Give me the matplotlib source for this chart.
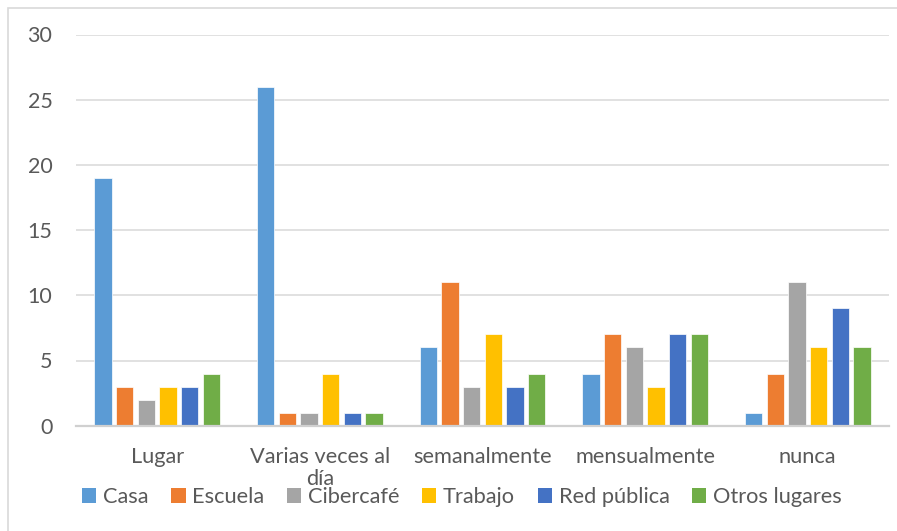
import matplotlib
matplotlib.use("Agg")
import matplotlib.pyplot as plt
from matplotlib.patches import Rectangle, Patch
import numpy as np

plt.rcParams['font.family'] = ['Lato', 'DejaVu Sans']

categories = ["Lugar", "Varias veces al\ndía", "semanalmente", "mensualmente", "nunca"]
series_names = ["Casa", "Escuela", "Cibercafé", "Trabajo", "Red pública", "Otros lugares"]
casa = [19, 26, 6, 4, 1]
escuela = [3, 1, 11, 7, 4]
cibercafe = [2, 1, 3, 6, 11]
trabajo = [3, 4, 7, 3, 6]
red_publica = [3, 1, 3, 7, 9]
otros_lugares = [4, 1, 4, 7, 6]
yticks = [0, 5, 10, 15, 20, 25, 30]

series_values = [casa, escuela, cibercafe, trabajo, red_publica, otros_lugares]
colors = ["#5B9BD5", "#ED7D31", "#A5A5A5", "#FFC000", "#4472C4", "#70AD47"]
text_color = "#595959"

W, H = 897, 531
fig = plt.figure(figsize=(W / 100, H / 100), dpi=100)

# chart area border
fig.patches.append(Rectangle((8 / W, -0.1), 1.2, 1 - 8 / H + 0.1,
                             transform=fig.transFigure, fill=False,
                             edgecolor="#D9D9D9", linewidth=1.2, zorder=0))

left, right = 76 / W, 889 / W
top_px, bot_px = 34.5, 425.7
ax = fig.add_axes([left, 1 - bot_px / H, right - left, (bot_px - top_px) / H])

x = np.arange(len(categories))
step = 0.8 / len(series_names)
for i, (name, vals, c) in enumerate(zip(series_names, series_values, colors)):
    pos = x - 0.4 + step * (i + 0.5)
    ax.bar(pos, vals, width=step * 0.8, color=c, edgecolor="white",
           linewidth=0.5, label=name, zorder=3)

ax.set_xlim(-0.5, len(categories) - 0.5)
ax.set_ylim(0, 30)
ax.set_yticks(yticks)
ax.yaxis.grid(True, color="#D9D9D9", linewidth=1.1, zorder=0)
ax.set_axisbelow(True)
for s in ["top", "right", "left"]:
    ax.spines[s].set_visible(False)
ax.spines["bottom"].set_color("#D0D0D0")
ax.spines["bottom"].set_linewidth(1.6)
ax.spines["bottom"].set_zorder(4)

ax.set_xticks(x)
ax.set_xticklabels(categories, linespacing=1.15)
ax.tick_params(axis="x", length=0, pad=15, labelsize=15.7, labelcolor=text_color)
ax.tick_params(axis="y", length=0, pad=17, labelsize=15.5, labelcolor=text_color)

handles = [Patch(facecolor=c, edgecolor="none") for c in colors]
fig.legend(handles, series_names, loc="center", ncol=6,
           bbox_to_anchor=(462 / W, 1 - 497 / H), frameon=False,
           fontsize=15.7, labelcolor=text_color, handlelength=0.65,
           handleheight=0.65, handletextpad=0.3, columnspacing=1.05,
           borderaxespad=0)

fig.savefig("out.png", dpi=100)
